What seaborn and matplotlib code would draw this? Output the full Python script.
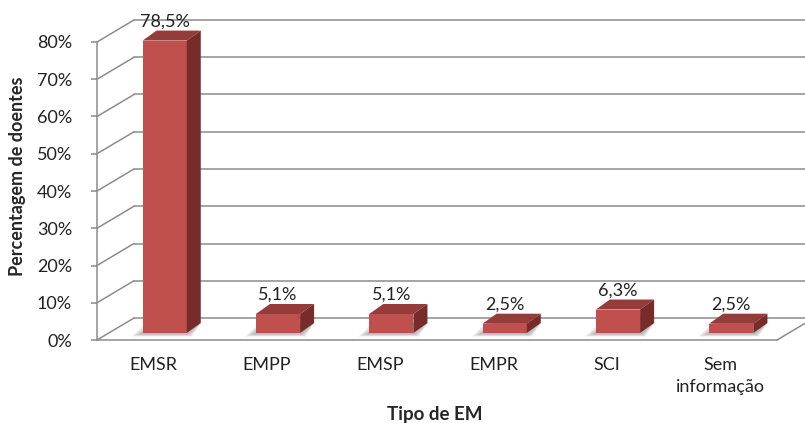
import numpy as np
import pandas as pd
import seaborn as sns
import matplotlib
matplotlib.use('Agg')
import matplotlib.pyplot as plt
from matplotlib.patches import Polygon

# data
categories = ['EMSR', 'EMPP', 'EMSP', 'EMPR', 'SCI', 'Sem\ninformação']
values = [78.5, 5.1, 5.1, 2.5, 6.3, 2.5]
value_labels = ['78,5%', '5,1%', '5,1%', '2,5%', '6,3%', '2,5%']
yticks = [0, 10, 20, 30, 40, 50, 60, 70, 80]
ytick_labels = ['0%', '10%', '20%', '30%', '40%', '50%', '60%', '70%', '80%']

FRONT = '#C0504D'
TOP = '#953B39'
SIDE = '#772C2A'
GRID = '#8C8C8C'

# fake 3d offsets, in pixels (x right, y up)
WALL = (37, 22)
BAR_SHIFT = (11, 7)
BAR_DEPTH = (14, 10)

sns.set_theme(style='white')
plt.rcParams['font.family'] = ['Lato', 'DejaVu Sans']

fig = plt.figure(figsize=(8.05, 4.23), dpi=100)
ax = fig.add_axes([97 / 805, 1 - 340 / 423, 680 / 805, 298 / 423])

df = pd.DataFrame({'tipo': categories, 'pct': values})
sns.barplot(data=df, x='tipo', y='pct', color=FRONT, saturation=1,
            width=0.39, ax=ax, zorder=4)
ax.set_xlim(-0.5, 5.5)
ax.set_ylim(0, 80)

inv = ax.transData.inverted()


def to_data(dx, dy):
    a = inv.transform((0, 0))
    b = inv.transform((dx, dy))
    return b[0] - a[0], b[1] - a[1]


wx, wy = to_data(*WALL)
sx, sy = to_data(*BAR_SHIFT)
bx, by = to_data(*BAR_DEPTH)
ox, oy = to_data(0, 4)

# back wall gridlines + side diagonals
x_left, x_right = -0.5, 5.5
for v in yticks:
    ax.plot([x_left, x_left + wx], [v, v + wy], color=GRID, lw=1.1,
            clip_on=False, zorder=1)
    ax.plot([x_left + wx, x_right + wx], [v + wy, v + wy], color=GRID,
            lw=1.1, clip_on=False, zorder=1)
ax.plot([x_right, x_right + wx], [0, wy], color=GRID, lw=1.1,
        clip_on=False, zorder=1)

# turn flat bars into boxes
for i, patch in enumerate(ax.patches):
    x0 = patch.get_x() + sx
    w = patch.get_width()
    h = patch.get_height()
    x1 = x0 + w
    y0, y1 = sy, sy + h
    patch.set_x(x0)
    patch.set_y(y0)
    patch.set_edgecolor('none')
    patch.set_linewidth(0)
    patch.set_clip_on(False)

    # soft shadow on the floor
    for k in range(5):
        gx, gy = to_data(3 + 2 * k, 2 + k)
        ax.add_patch(Polygon([(x0 - gx, y0 - gy * 0.6), (x1 + gx * 0.5, y0 - gy * 0.6),
                              (x1 + bx, y0 + by), (x0 + bx - gx, y0 + by)],
                             closed=True, facecolor='black', edgecolor='none',
                             alpha=0.06, zorder=2, clip_on=False))

    ax.add_patch(Polygon([(x0, y1), (x1, y1), (x1 + bx, y1 + by), (x0 + bx, y1 + by)],
                         closed=True, facecolor=TOP, edgecolor='none',
                         zorder=4, clip_on=False))
    ax.add_patch(Polygon([(x1, y0), (x1 + bx, y0 + by), (x1 + bx, y1 + by), (x1, y1)],
                         closed=True, facecolor=SIDE, edgecolor='none',
                         zorder=4, clip_on=False))

    ax.text(x0 + w / 2, y1 + by + oy, value_labels[i], ha='center',
            va='baseline', fontsize=13, color='#222222', zorder=5)

ax.spines[['top', 'right']].set_visible(False)
for s in ['left', 'bottom']:
    ax.spines[s].set_color(GRID)
    ax.spines[s].set_linewidth(1.1)

ax.set_yticks(yticks, ytick_labels)
ax.tick_params(axis='y', left=True, direction='out', length=4, width=1.1,
               color=GRID, pad=14, labelsize=13, labelcolor='#222222')
ax.set_xticks(range(len(categories)))
ax.set_xticklabels(categories, linespacing=1.45)
ax.tick_params(axis='x', bottom=False, length=0, pad=12, labelsize=13,
               labelcolor='#222222')
ax.set_xlabel('')
ax.set_ylabel('')

fig.text(17 / 805, 1 - 176 / 423, 'Percentagem de doentes', rotation=90,
         ha='center', va='center', fontsize=13, fontweight='bold')
fig.text(435 / 805, 1 - 414 / 423, 'Tipo de EM', ha='center', va='center',
         fontsize=13.5, fontweight='bold')

fig.savefig('out.png', dpi=100, facecolor='white')
